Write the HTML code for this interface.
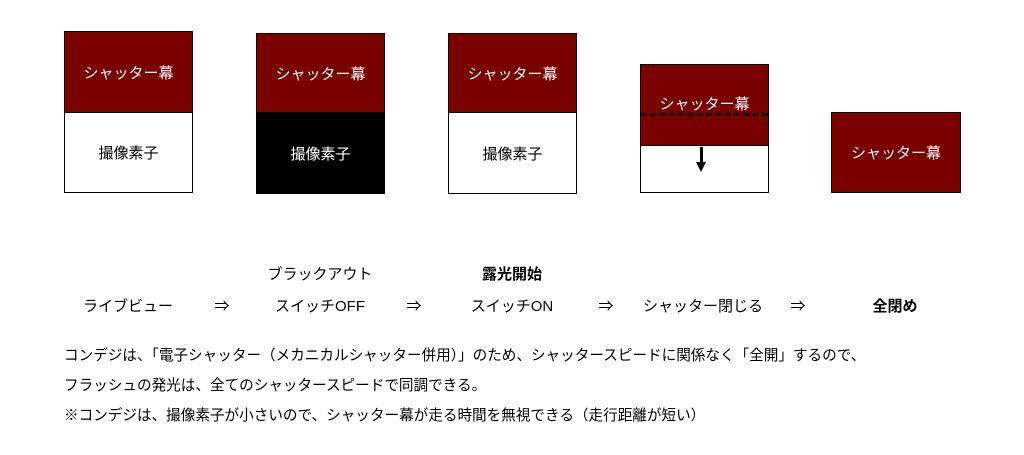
<!DOCTYPE html>
<html><head><meta charset="utf-8"><style>
body{margin:0;width:1024px;height:455px;background:#fff;position:relative;overflow:hidden;font-family:"Liberation Sans","Noto Sans CJK JP",sans-serif;color:#000}
.b{position:absolute;box-sizing:border-box;border:1px solid #000;display:flex;align-items:center;justify-content:center;font-size:15px}
.r{background:#7a0000;color:#fff}
.w{background:#fff}
.k{background:#000;color:#fff}
.t{position:absolute;font-size:15px;white-space:nowrap;transform:translateX(-50%)}
.p{position:absolute;left:64px;font-size:14.6px;white-space:nowrap}
</style></head><body>
<div class="b r" style="left:64px;top:31px;width:129px;height:82px">シャッター幕</div>
<div class="b w" style="left:64px;top:112px;width:129px;height:81px">撮像素子</div>
<div class="b r" style="left:256px;top:33px;width:129px;height:80px">シャッター幕</div>
<div class="b k" style="left:256px;top:112px;width:129px;height:82px">撮像素子</div>
<div class="b r" style="left:448px;top:33px;width:129px;height:80px">シャッター幕</div>
<div class="b w" style="left:448px;top:112px;width:129px;height:82px">撮像素子</div>
<div class="b r" style="left:640px;top:64px;width:129px;height:82px;align-items:flex-start;padding-top:28px">シャッター幕</div>
<div style="position:absolute;left:641px;top:113px;width:127px;border-top:3px dashed #111"></div>
<div class="b w" style="left:640px;top:145px;width:129px;height:48px"></div>
<div style="position:absolute;left:700px;top:147px;width:3px;height:16px;background:#000"></div>
<div style="position:absolute;left:696px;top:162px;width:0;height:0;border-left:5.5px solid transparent;border-right:5.5px solid transparent;border-top:10px solid #000"></div>
<div class="b r" style="left:831px;top:112px;width:130px;height:81px">シャッター幕</div>

<div class="t" style="left:320px;top:263px">ブラックアウト</div>
<div class="t" style="left:512px;top:263px;font-weight:bold">露光開始</div>
<div class="t" style="left:128px;top:295px">ライブビュー</div>
<div class="t" style="left:222px;top:295px">⇒</div>
<div class="t" style="left:320px;top:295px">スイッチOFF</div>
<div class="t" style="left:414px;top:295px">⇒</div>
<div class="t" style="left:512px;top:295px">スイッチON</div>
<div class="t" style="left:606px;top:295px">⇒</div>
<div class="t" style="left:703px;top:295px">シャッター閉じる</div>
<div class="t" style="left:798px;top:295px">⇒</div>
<div class="t" style="left:895px;top:295px;font-weight:bold">全閉め</div>

<div class="p" style="top:344px">コンデジは、「電子シャッター（メカニカルシャッター併用）」のため、シャッタースピードに関係なく「全開」するので、</div>
<div class="p" style="top:374px">フラッシュの発光は、全てのシャッタースピードで同調できる。</div>
<div class="p" style="top:404px">※コンデジは、撮像素子が小さいので、シャッター幕が走る時間を無視できる（走行距離が短い）</div>
</body></html>
